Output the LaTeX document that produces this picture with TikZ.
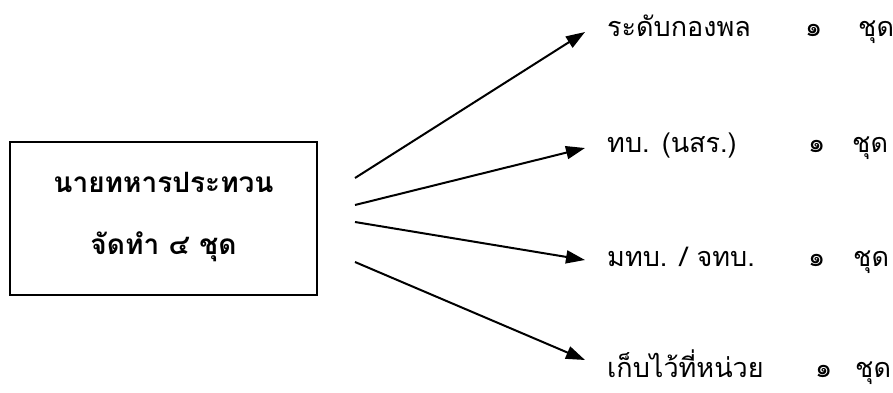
\documentclass[tikz,border=0pt]{standalone}
\usepackage{fontspec}
\newfontfamily\thaifont[Script=Thai]{Loma}
\usetikzlibrary{arrows.meta}
\begin{document}
\begin{tikzpicture}[x=1pt,y=-1pt,
  lbl/.style={anchor=base west,inner sep=0pt,font=\thaifont\fontsize{27}{32}\selectfont},
  boxtxt/.style={anchor=base,inner sep=0pt,font=\thaifont\bfseries\fontsize{28}{33}\selectfont},
  arr/.style={line width=2pt,-{Triangle[length=19pt,width=13pt]}}]
\useasboundingbox (0,0) rectangle (893,392);
\node[draw,line width=1.8pt,minimum width=307pt,minimum height=153pt,inner sep=0pt] (box) at (163.5,218.5) {};
\node[boxtxt] (b1) at (163.5,192) {นายทหารประทวน};
\node[boxtxt] (b2) at (163.5,254) {จัดทำ ๔ ชุด};
\coordinate (s1) at (355,178);
\coordinate (s2) at (355,205);
\coordinate (s3) at (355,222);
\coordinate (s4) at (355,262);
\coordinate (t1) at (585,32);
\coordinate (t2) at (585,148);
\coordinate (t3) at (585,260);
\coordinate (t4) at (585,360);
\draw[arr] (s1) -- (t1);
\draw[arr] (s2) -- (t2);
\draw[arr] (s3) -- (t3);
\draw[arr] (s4) -- (t4);
\node[lbl] (l1) at (607,36) {ระดับกองพล};
\node[lbl] (n1) at (805,36) {๑};
\node[lbl] (c1) at (858,36) {ชุด};
\node[lbl] (l2) at (607,152) {ทบ. (นสร.)};
\node[lbl] (n2) at (808,152) {๑};
\node[lbl] (c2) at (852,152) {ชุด};
\node[lbl] (l3) at (607,266) {มทบ. / จทบ.};
\node[lbl] (n3) at (808,266) {๑};
\node[lbl] (c3) at (853,266) {ชุด};
\node[lbl] (l4) at (607,377) {เก็บไว้ที่หน่วย};
\node[lbl] (n4) at (815,377) {๑};
\node[lbl] (c4) at (855,377) {ชุด};
\end{tikzpicture}
\end{document}
